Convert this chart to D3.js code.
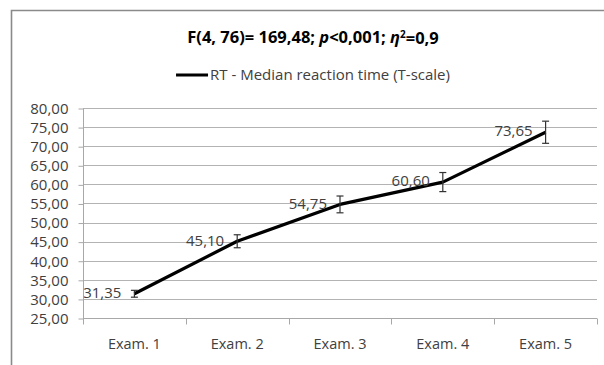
<!DOCTYPE html>
<html>
<head>
<meta charset="utf-8">
<script src="https://cdn.jsdelivr.net/npm/d3@7"></script>
<style>
  html, body { margin: 0; padding: 0; background: #fff; overflow: hidden; }
  svg { display: block; }
  svg text { font-family: "Open Sans", Lato, sans-serif; }
</style>
</head>
<body>
<div id="chart"></div>
<script>
var width = 604,
    height = 365;

var exams = ['Exam. 1', 'Exam. 2', 'Exam. 3', 'Exam. 4', 'Exam. 5'];
var medianRT = [31.35, 45.10, 54.75, 60.60, 73.65];
var errRT = [0.9, 1.7, 2.2, 2.5, 2.9];
var yTicks = [25, 30, 35, 40, 45, 50, 55, 60, 65, 70, 75, 80];
var legendLabel = 'RT - Median reaction time (T-scale)';

var plotL = 83, plotR = 597, plotT = 108, plotB = 318,
    center = 313;

var fmt = function(d) { return d3.format('.2f')(d).replace('.', ','); };

var svg = d3.select('#chart').append('svg')
    .attr('width', width)
    .attr('height', height);

svg.append('rect')
    .attr('width', width).attr('height', height)
    .attr('fill', '#fff');

// chart frame: only top and left edges are inside the picture
svg.append('path')
    .attr('d', 'M11.5,' + height + 'V10.5H' + width)
    .attr('fill', 'none')
    .attr('stroke', '#8a8a8a')
    .attr('stroke-width', 1.6);

var x = d3.scaleBand()
    .domain(exams)
    .range([plotL, plotR]);

var y = d3.scaleLinear()
    .domain([25, 80])
    .range([plotB, plotT]);

// gridlines
svg.append('g')
    .selectAll('line')
    .data(yTicks.slice(1))
    .enter().append('line')
      .attr('x1', plotL).attr('x2', plotR)
      .attr('y1', function(d) { return Math.round(y(d)) + 0.5; })
      .attr('y2', function(d) { return Math.round(y(d)) + 0.5; })
      .attr('stroke', '#b3b3b3')
      .attr('stroke-width', 1);

// y axis
var yAxis = svg.append('g')
    .attr('transform', 'translate(' + (plotL + 0.5) + ',0.5)')
    .call(d3.axisLeft(y).tickValues(yTicks).tickSize(5).tickPadding(10).tickFormat(fmt));
yAxis.selectAll('line, path').attr('stroke', '#a8a8a8');
yAxis.select('.domain').attr('d', 'M0,' + plotT + 'V' + plotB);
yAxis.selectAll('text')
    .attr('font-size', 15)
    .attr('fill', '#404040')
    .attr('font-family', '"Open Sans", sans-serif');

// x axis
var xAxis = svg.append('g')
    .attr('transform', 'translate(0,' + (Math.round(plotB) + 0.5) + ')')
    .call(d3.axisBottom(x).tickSize(0).tickPadding(20));
xAxis.select('.domain').attr('stroke', '#a8a8a8').attr('d', 'M' + plotL + ',0H' + plotR);
xAxis.selectAll('text')
    .attr('font-size', 14.5)
    .attr('fill', '#404040')
    .attr('font-family', '"Open Sans", sans-serif');

xAxis.selectAll('.sep')
    .data(exams.concat(['end']))
    .enter().append('line')
      .attr('class', 'sep')
      .attr('x1', function(d, i) { return Math.round(plotL + i * x.step()) + 0.5; })
      .attr('x2', function(d, i) { return Math.round(plotL + i * x.step()) + 0.5; })
      .attr('y1', 0).attr('y2', 6)
      .attr('stroke', '#a8a8a8');

var cx = function(i) { return x(exams[i]) + x.bandwidth() / 2; };

// line
var line = d3.line()
    .x(function(d, i) { return cx(i); })
    .y(function(d) { return y(d); });

svg.append('path')
    .datum(medianRT)
    .attr('d', line)
    .attr('fill', 'none')
    .attr('stroke', '#000')
    .attr('stroke-width', 3.2)
    .attr('stroke-linejoin', 'round');

// error bars
var eb = svg.append('g').selectAll('g')
    .data(medianRT)
    .enter().append('g');

eb.append('line')
    .attr('x1', function(d, i) { return cx(i); })
    .attr('x2', function(d, i) { return cx(i); })
    .attr('y1', function(d, i) { return y(d + errRT[i]); })
    .attr('y2', function(d, i) { return y(d - errRT[i]); })
    .attr('stroke', '#333').attr('stroke-width', 1.2);
eb.append('line')
    .attr('x1', function(d, i) { return cx(i) - 3.5; })
    .attr('x2', function(d, i) { return cx(i) + 3.5; })
    .attr('y1', function(d, i) { return y(d + errRT[i]); })
    .attr('y2', function(d, i) { return y(d + errRT[i]); })
    .attr('stroke', '#333').attr('stroke-width', 1.2);
eb.append('line')
    .attr('x1', function(d, i) { return cx(i) - 3.5; })
    .attr('x2', function(d, i) { return cx(i) + 3.5; })
    .attr('y1', function(d, i) { return y(d - errRT[i]); })
    .attr('y2', function(d, i) { return y(d - errRT[i]); })
    .attr('stroke', '#333').attr('stroke-width', 1.2);

// value labels
svg.append('g').selectAll('text')
    .data(medianRT)
    .enter().append('text')
      .attr('x', function(d, i) { return cx(i) - 13; })
      .attr('y', function(d) { return y(d) - 1; })
      .attr('dy', '0.35em')
      .attr('text-anchor', 'end')
      .attr('font-size', 15)
      .attr('fill', '#404040')
      .text(fmt);

// title
var title = svg.append('text')
    .attr('x', center).attr('y', 37)
    .attr('dy', '0.35em')
    .attr('text-anchor', 'middle')
    .attr('font-size', 16.5)
    .attr('font-weight', 'bold')
    .attr('fill', '#000');
title.append('tspan').text('F(4, 76)= 169,48; ');
title.append('tspan').attr('font-style', 'italic').text('p');
title.append('tspan').text('<0,001; ');
title.append('tspan').attr('font-style', 'italic').text('η');
title.append('tspan').attr('font-size', 10).attr('dy', '-0.5em').text('2');
title.append('tspan').attr('dy', '0.35em').text('=0,9');

// legend
var legend = svg.append('g').attr('transform', 'translate(' + center + ',75)');
var legendText = legend.append('text')
    .attr('x', 0).attr('dy', '0.35em')
    .attr('font-size', 15)
    .attr('fill', '#404040')
    .text(legendLabel);
var tw = legendText.node().getComputedTextLength();
var lx = -(tw + 34) / 2;
legend.append('line')
    .attr('x1', lx).attr('x2', lx + 32)
    .attr('y1', 0).attr('y2', 0)
    .attr('stroke', '#000').attr('stroke-width', 3.2);
legendText.attr('x', lx + 34);
</script>
</body>
</html>
